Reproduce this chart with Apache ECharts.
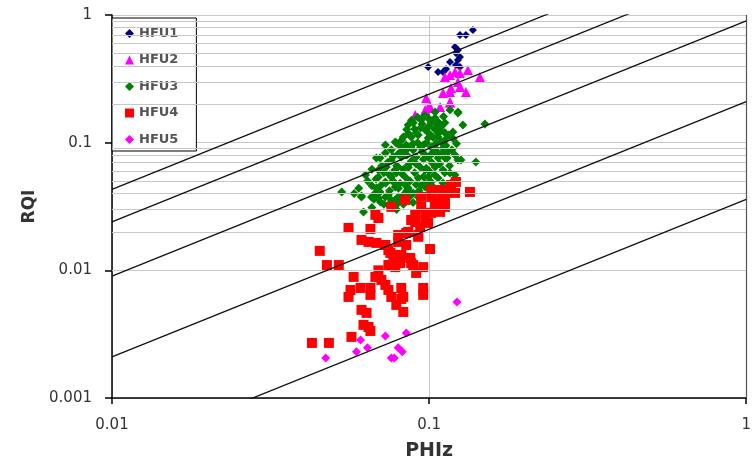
<!DOCTYPE html>
<html>
<head>
<meta charset="utf-8">
<script src="https://cdn.jsdelivr.net/npm/echarts@6/dist/echarts.min.js"></script>
<style>
  html, body { margin: 0; padding: 0; background: #fff; }
  #chart { width: 754px; height: 468px; }
</style>
</head>
<body>
<div id="chart"></div>
<script>
// PHIz / RQI pairs per flow unit
const hfu1 = [
  [0.1374, 0.763], [0.1306, 0.697], [0.1251, 0.697], [0.1207, 0.562], [0.1233, 0.532],
  [0.1215, 0.504], [0.1251, 0.469], [0.1233, 0.444], [0.1164, 0.428], [0.1215, 0.406],
  [0.0993, 0.392], [0.1131, 0.378], [0.1067, 0.358], [0.1106, 0.358], [0.1251, 0.392]
];
const hfu2 = [
  [0.1325, 0.371], [0.1207, 0.358], [0.1164, 0.339], [0.1251, 0.351], [0.1122, 0.327],
  [0.1446, 0.327], [0.1233, 0.299], [0.1172, 0.268], [0.1251, 0.273], [0.1306, 0.249],
  [0.1106, 0.245], [0.1164, 0.249], [0.0979, 0.224], [0.1164, 0.208], [0.1007, 0.190],
  [0.1083, 0.190], [0.1164, 0.205], [0.0972, 0.180], [0.0904, 0.165], [0.0993, 0.187],
  [0.0972, 0.171]
];
const hfu3 = [
  [0.1044, 0.174], [0.1164, 0.180], [0.1233, 0.171], [0.1499, 0.140], [0.1278, 0.1375],
  [0.1189, 0.121], [0.0891, 0.143], [0.0944, 0.1505], [0.0993, 0.156], [0.1015, 0.143],
  [0.1067, 0.145], [0.1091, 0.133], [0.0972, 0.126], [0.0924, 0.115], [0.0878, 0.111],
  [0.0829, 0.111], [0.0993, 0.109], [0.1067, 0.111], [0.1122, 0.105], [0.0847, 0.0959],
  [0.0788, 0.0995], [0.0728, 0.0959], [0.0891, 0.0877], [0.0958, 0.0959], [0.1015, 0.0925],
  [0.1106, 0.0909], [0.1147, 0.0846], [0.1207, 0.0801], [0.1260, 0.0732], [0.1404, 0.0706],
  [0.0910, 0.0773], [0.0993, 0.0773], [0.1067, 0.0759], [0.0817, 0.0773], [0.0760, 0.0732],
  [0.0682, 0.0759], [0.0733, 0.0645], [0.0799, 0.0645], [0.0859, 0.0669], [0.0937, 0.0645],
  [0.1044, 0.0645], [0.1106, 0.0611], [0.1164, 0.0579], [0.0630, 0.0559], [0.0692, 0.0539],
  [0.0760, 0.0539], [0.0841, 0.0539], [0.0924, 0.0529], [0.0993, 0.0539], [0.1067, 0.0529],
  [0.0707, 0.0466], [0.0782, 0.0450], [0.0859, 0.0442], [0.0944, 0.0466], [0.1015, 0.0466],
  [0.1106, 0.0483], [0.0530, 0.0411], [0.0612, 0.0376], [0.0658, 0.0376], [0.0728, 0.0376],
  [0.0799, 0.0376], [0.0878, 0.0404], [0.0924, 0.0376], [0.0728, 0.0831], [0.0817, 0.0846],
  [0.0972, 0.0801], [0.1029, 0.0831], [0.1122, 0.0759], [0.1233, 0.0732], [0.0692, 0.0611],
  [0.0788, 0.0579], [0.0972, 0.0611], [0.1207, 0.0559], [0.0728, 0.0492], [0.0841, 0.0466],
  [0.0972, 0.0450], [0.0677, 0.0404], [0.0760, 0.0356], [0.0817, 0.0376], [0.0891, 0.0404],
  [0.0702, 0.0343], [0.0799, 0.0337], [0.0612, 0.0383], [0.0682, 0.0442], [0.0771, 0.0492],
  [0.0744, 0.0390], [0.0692, 0.0369], [0.0782, 0.0356], [0.0841, 0.0404], [0.1015, 0.0492],
  [0.0621, 0.0287], [0.0744, 0.0325], [0.1172, 0.0483], [0.1233, 0.174], [0.0859, 0.1375],
  [0.1044, 0.156], [0.1122, 0.143], [0.0910, 0.119], [0.0782, 0.101], [0.1091, 0.101],
  [0.1044, 0.0909], [0.095, 0.085], [0.088, 0.072], [0.083, 0.062], [0.090, 0.058],
  [0.077, 0.050], [0.080, 0.044], [0.087, 0.050], [0.093, 0.042], [0.070, 0.041],
  [0.066, 0.046], [0.085, 0.080], [0.079, 0.066], [0.092, 0.100], [0.100, 0.118],
  [0.105, 0.098], [0.102, 0.070], [0.098, 0.063], [0.106, 0.082], [0.113, 0.095],
  [0.116, 0.066], [0.075, 0.056], [0.072, 0.058], [0.086, 0.091], [0.094, 0.130],
  [0.108, 0.125], [0.115, 0.115], [0.111, 0.160], [0.097, 0.048], [0.089, 0.034],
  [0.082, 0.105], [0.086, 0.118], [0.090, 0.128], [0.095, 0.140], [0.100, 0.135],
  [0.104, 0.128], [0.107, 0.118], [0.103, 0.110], [0.098, 0.100], [0.094, 0.092],
  [0.089, 0.098], [0.084, 0.088], [0.080, 0.082], [0.077, 0.078], [0.074, 0.070],
  [0.071, 0.066], [0.068, 0.052], [0.073, 0.048], [0.078, 0.061], [0.082, 0.057],
  [0.086, 0.064], [0.091, 0.068], [0.096, 0.074], [0.101, 0.080], [0.105, 0.087],
  [0.110, 0.083], [0.114, 0.076], [0.118, 0.088], [0.122, 0.098], [0.119, 0.108],
  [0.112, 0.120], [0.106, 0.140], [0.101, 0.150], [0.097, 0.163], [0.092, 0.158],
  [0.088, 0.150], [0.085, 0.127], [0.081, 0.094], [0.076, 0.088], [0.070, 0.076],
  [0.066, 0.062], [0.064, 0.050], [0.060, 0.044], [0.058, 0.040], [0.067, 0.036],
  [0.075, 0.042], [0.081, 0.048], [0.085, 0.042], [0.091, 0.047], [0.096, 0.054],
  [0.100, 0.060], [0.104, 0.056], [0.108, 0.068], [0.112, 0.058], [0.083, 0.033],
  [0.087, 0.038], [0.072, 0.033], [0.066, 0.031], [0.079, 0.030]
];
const hfu4 = [
  [0.1215, 0.0492], [0.1345, 0.0411], [0.1122, 0.0426], [0.1044, 0.0426], [0.0944, 0.0376],
  [0.1015, 0.0376], [0.1091, 0.0390], [0.1207, 0.0404], [0.0841, 0.0356], [0.0760, 0.0314],
  [0.1044, 0.0337], [0.0944, 0.0314], [0.1122, 0.0314], [0.1083, 0.0287], [0.0972, 0.0282],
  [0.0904, 0.0272], [0.0677, 0.0272], [0.0692, 0.0257], [0.0904, 0.0239], [0.0993, 0.0235],
  [0.0937, 0.0215], [0.0557, 0.0215], [0.0653, 0.0211], [0.0847, 0.0196], [0.0799, 0.0189],
  [0.0924, 0.0189], [0.1172, 0.0466], [0.1015, 0.0426], [0.1122, 0.0356], [0.1015, 0.0282],
  [0.0878, 0.0248], [0.0972, 0.0248], [0.0859, 0.0200], [0.0612, 0.0173], [0.0644, 0.0167],
  [0.0682, 0.0164], [0.0728, 0.0158], [0.0799, 0.0167], [0.0847, 0.0158], [0.0924, 0.0183],
  [0.0744, 0.0144], [0.0771, 0.0132], [0.0788, 0.0121], [0.1007, 0.0147], [0.0452, 0.0142],
  [0.0755, 0.0137], [0.0817, 0.0132], [0.0872, 0.0125], [0.0878, 0.0114], [0.0476, 0.0110],
  [0.0519, 0.0110], [0.0692, 0.0100], [0.0744, 0.0110], [0.0782, 0.0106], [0.0811, 0.0114],
  [0.0891, 0.0110], [0.0958, 0.0106], [0.0910, 0.00954], [0.0677, 0.00888], [0.0707, 0.00841],
  [0.0728, 0.00769], [0.0578, 0.00888], [0.0608, 0.00728], [0.0653, 0.00728], [0.0817, 0.00728],
  [0.0958, 0.00728], [0.0565, 0.00702], [0.0744, 0.00702], [0.0557, 0.00619], [0.0653, 0.00642],
  [0.0760, 0.00619], [0.0817, 0.00597], [0.0958, 0.00642], [0.0829, 0.00619], [0.0612, 0.00490],
  [0.0635, 0.00464], [0.0788, 0.00536], [0.0829, 0.00472], [0.0621, 0.00374], [0.0644, 0.00360],
  [0.0653, 0.00335], [0.0569, 0.00301], [0.0427, 0.00270], [0.0483, 0.00270]
];
const hfu5 = [
  [0.1224, 0.00566], [0.0608, 0.00285], [0.0728, 0.00306], [0.0847, 0.00323], [0.0639, 0.00247],
  [0.0590, 0.00230], [0.0799, 0.00247], [0.0823, 0.00230], [0.0760, 0.00206], [0.0777, 0.00206],
  [0.0472, 0.00206]
];

// FZI iso-lines: RQI = FZI * PHIz
const fziValues = [4.3, 2.4, 0.9, 0.21, 0.036];
const phiEnds = [0.01, 1];

// minor horizontal grid values
const minorGrid = [
  0.002, 0.003, 0.004, 0.005, 0.006, 0.007, 0.008, 0.009,
  0.02, 0.03, 0.04, 0.05, 0.06, 0.07, 0.08, 0.09,
  0.2, 0.3, 0.4, 0.5, 0.6, 0.7, 0.8, 0.9
];

const seriesNames = ['HFU1', 'HFU2', 'HFU3', 'HFU4', 'HFU5'];

let chart = echarts.init(document.getElementById('chart'), null, { renderer: 'canvas' });

const axisFont = { fontFamily: 'DejaVu Sans', fontSize: 15, color: '#333' };

let option = {
  animation: false,
  backgroundColor: '#fff',
  grid: { left: 112, right: 4, top: 15, bottom: 70 },
  legend: {
    data: seriesNames,
    orient: 'vertical',
    left: 112,
    top: 18,
    padding: [9, 18, 5, 13],
    itemGap: 13.5,
    itemWidth: 9,
    itemHeight: 9,
    backgroundColor: '#fff',
    borderColor: '#000',
    borderWidth: 1,
    textStyle: { fontFamily: 'DejaVu Sans', fontSize: 13, fontWeight: 'bold', color: '#555', lineHeight: 12 }
  },
  xAxis: {
    type: 'log',
    logBase: 10,
    min: 0.01,
    max: 1,
    name: 'PHIz',
    nameLocation: 'middle',
    nameGap: 44,
    nameTextStyle: { fontFamily: 'DejaVu Sans', fontSize: 19, fontWeight: 'bold', color: '#333' },
    axisLine: { lineStyle: { color: '#000', width: 1.5 } },
    axisTick: { inside: false, length: 6, lineStyle: { color: '#000', width: 1.5 } },
    axisLabel: Object.assign({ margin: 20 }, axisFont),
    splitLine: { show: true, lineStyle: { color: '#c8c8c8', width: 1 } }
  },
  yAxis: {
    type: 'log',
    logBase: 10,
    min: 0.001,
    max: 1,
    name: 'RQI',
    nameLocation: 'middle',
    nameGap: 72,
    nameTextStyle: { fontFamily: 'DejaVu Sans', fontSize: 17, fontWeight: 'bold', color: '#333' },
    axisLine: { lineStyle: { color: '#000', width: 1.5 } },
    axisTick: { inside: false, length: 7, lineStyle: { color: '#000', width: 1.5 } },
    axisLabel: Object.assign({ margin: 20 }, axisFont),
    splitLine: { show: true, lineStyle: { color: '#c8c8c8', width: 1 } }
  },
  series: []
};

// minor grid and right border as mark lines
option.series.push({
  type: 'line',
  data: [],
  silent: true,
  markLine: {
    silent: true,
    symbol: 'none',
    label: { show: false },
    lineStyle: { color: '#c8c8c8', width: 1, type: 'solid' },
    data: minorGrid.map(v => ({ yAxis: v })).concat([{ xAxis: 1, lineStyle: { color: '#555', width: 1.2 } }])
  }
});

const styles = [
  { symbol: 'diamond', size: 8, color: '#000080' },
  { symbol: 'triangle', size: 10, color: '#ff00ff' },
  { symbol: 'diamond', size: 9, color: '#008000' },
  { symbol: 'rect', size: 10, color: '#ff0000' },
  { symbol: 'diamond', size: 9, color: '#ff00ff' }
];
[hfu1, hfu2, hfu3, hfu4, hfu5].forEach((d, i) => {
  option.series.push({
    name: seriesNames[i],
    type: 'scatter',
    data: d,
    symbol: styles[i].symbol,
    symbolSize: styles[i].size,
    itemStyle: { color: styles[i].color, opacity: 1 }
  });
});

fziValues.forEach(f => {
  option.series.push({
    type: 'line',
    data: phiEnds.map(p => [p, f * p]),
    symbol: 'none',
    silent: true,
    clip: true,
    z: 5,
    lineStyle: { color: '#111', width: 1.3 }
  });
});

chart.setOption(option);
</script>
</body>
</html>
